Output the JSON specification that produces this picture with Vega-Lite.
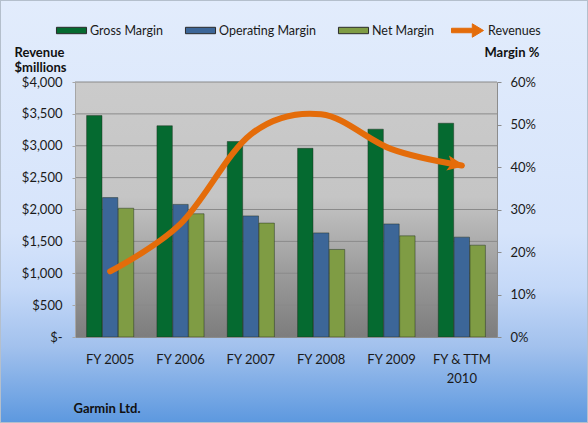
{
  "$schema": "https://vega.github.io/schema/vega-lite/v6.json",
  "width": 588,
  "height": 423,
  "autosize": {"type": "none"},
  "padding": 0,
  "datasets": {
    "margins": [
      {"year": "FY 2005", "metric": "Gross Margin", "margin": 0.521},
      {"year": "FY 2005", "metric": "Operating Margin", "margin": 0.328},
      {"year": "FY 2005", "metric": "Net Margin", "margin": 0.303},
      {"year": "FY 2006", "metric": "Gross Margin", "margin": 0.497},
      {"year": "FY 2006", "metric": "Operating Margin", "margin": 0.312},
      {"year": "FY 2006", "metric": "Net Margin", "margin": 0.290},
      {"year": "FY 2007", "metric": "Gross Margin", "margin": 0.460},
      {"year": "FY 2007", "metric": "Operating Margin", "margin": 0.285},
      {"year": "FY 2007", "metric": "Net Margin", "margin": 0.268},
      {"year": "FY 2008", "metric": "Gross Margin", "margin": 0.444},
      {"year": "FY 2008", "metric": "Operating Margin", "margin": 0.245},
      {"year": "FY 2008", "metric": "Net Margin", "margin": 0.206},
      {"year": "FY 2009", "metric": "Gross Margin", "margin": 0.489},
      {"year": "FY 2009", "metric": "Operating Margin", "margin": 0.266},
      {"year": "FY 2009", "metric": "Net Margin", "margin": 0.238},
      {"year": "FY & TTM 2010", "metric": "Gross Margin", "margin": 0.503},
      {"year": "FY & TTM 2010", "metric": "Operating Margin", "margin": 0.235},
      {"year": "FY & TTM 2010", "metric": "Net Margin", "margin": 0.216}
    ],
    "revenue": [
      {"year": "FY 2005", "revenue": 1028},
      {"year": "FY 2006", "revenue": 1774},
      {"year": "FY 2007", "revenue": 3180},
      {"year": "FY 2008", "revenue": 3494},
      {"year": "FY 2009", "revenue": 2946},
      {"year": "FY & TTM 2010", "revenue": 2690}
    ],
    "plotarea": [{"x0": 0, "x1": 1, "y0": 0, "y1": 4000}],
    "grid": [{"g": 500}, {"g": 1000}, {"g": 1500}, {"g": 2000}, {"g": 2500}, {"g": 3000}, {"g": 3500}, {"g": 4000}]
  },
  "layer": [
    {
      "layer": [
        {
          "data": {"name": "plotarea"},
          "mark": {"type": "rect", "fill": {"gradient": "linear", "x1": 0, "y1": 0, "x2": 0, "y2": 1, "stops": [
            {"offset": 0, "color": "#cbcbcb"},
            {"offset": 0.45, "color": "#c5c5c5"},
            {"offset": 0.75, "color": "#9b9b9b"},
            {"offset": 1, "color": "#7d7d7d"}
          ]}},
          "encoding": {
            "x": {"field": "x0", "type": "quantitative", "scale": {"domain": [0, 1], "range": [75, 497]}, "axis": null},
            "x2": {"field": "x1"},
            "y": {"field": "y0", "type": "quantitative", "scale": {"domain": [0, 4000], "range": [337, 82]}, "axis": null},
            "y2": {"field": "y1"}
          }
        },
        {
          "data": {"name": "grid"},
          "mark": {"type": "rule", "color": "#8a8a8a", "strokeWidth": 1},
          "encoding": {
            "x": {"datum": 0, "type": "quantitative"},
            "x2": {"datum": 1},
            "y": {"field": "g", "type": "quantitative"}
          }
        }
      ]
    },
    {
      "encoding": {
        "x": {
          "field": "year", "type": "nominal", "sort": null,
          "scale": {"paddingInner": 0.33, "paddingOuter": 0.165, "range": [75, 497]},
          "axis": {
            "orient": "bottom", "offset": -86, "zindex": 1,
            "labelAngle": 0, "ticks": false, "labelPadding": 16,
            "labelBaseline": "top", "labelLineHeight": 19,
            "labelExpr": "datum.label == 'FY & TTM 2010' ? ['FY & TTM', '2010'] : datum.label",
            "domainColor": "#8c8c8c",
            "title": "Garmin Ltd.", "titleX": 73, "titleY": 71, "titleAlign": "left", "titleBaseline": "middle", "titleAnchor": null
          }
        }
      },
      "layer": [
        {
          "data": {"name": "margins"},
          "mark": {"type": "bar", "stroke": "#1b2a1b", "strokeOpacity": 0.45, "strokeWidth": 1},
          "encoding": {
            "xOffset": {"field": "metric", "type": "nominal", "sort": ["Gross Margin", "Operating Margin", "Net Margin"], "scale": {"paddingInner": 0.03}},
            "y": {
              "field": "margin", "type": "quantitative",
              "scale": {"domain": [0, 0.6], "nice": false, "range": [337, 82]},
              "axis": {
                "orient": "right", "offset": -91, "zindex": 1,
                "values": [0, 0.1, 0.2, 0.3, 0.4, 0.5, 0.6], "format": ".0%",
                "grid": false, "tickSize": 4, "tickColor": "#8c8c8c", "domainColor": "#8c8c8c",
                "labelPadding": 9, "labelAlign": "left",
                "title": "Margin %", "titleAngle": 0, "titleAlign": "left", "titleBaseline": "alphabetic",
                "titleX": -13, "titleY": 56
              }
            },
            "color": {
              "field": "metric", "type": "nominal",
              "sort": ["Gross Margin", "Operating Margin", "Net Margin"],
              "scale": {"domain": ["Gross Margin", "Operating Margin", "Net Margin"], "range": ["#056a30", "#3c6698", "#7f9c44"]},
              "legend": {
                "title": null, "orient": "none", "direction": "horizontal", "legendX": 55, "legendY": 14,
                "symbolType": "M-0.94,-0.2L0.94,-0.2L0.94,0.2L-0.94,0.2Z",
                "symbolSize": 1024, "symbolStrokeColor": "#2a2a2a", "symbolStrokeWidth": 1,
                "labelOffset": 2, "columnPadding": 20, "padding": 0,
                "labelFontSize": 12.5, "labelColor": "#1a1a1a"
              }
            }
          }
        },
        {
          "data": {"name": "revenue"},
          "encoding": {
            "y": {
              "field": "revenue", "type": "quantitative",
              "scale": {"domain": [0, 4000], "nice": false, "range": [337, 82]},
              "axis": {
                "orient": "left", "offset": -75, "zindex": 1,
                "values": [0, 500, 1000, 1500, 2000, 2500, 3000, 3500, 4000],
                "labelExpr": "datum.value == 0 ? '$-\u00a0' : '$' + format(datum.value, ',')",
                "grid": false,
                "tickSize": 3, "tickColor": "#a6a6a6", "domainColor": "#a6a6a6", "labelPadding": 10,
                "title": ["Revenue", "$millions"], "titleAngle": 0, "titleAlign": "left", "titleBaseline": "alphabetic",
                "titleX": -61, "titleY": 56, "titleLineHeight": 15
              }
            }
          },
          "layer": [
            {
              "mark": {"type": "line", "interpolate": "cardinal", "strokeWidth": 6, "strokeCap": "round", "strokeJoin": "round"},
              "encoding": {
                "stroke": {
                  "datum": "Revenues",
                  "scale": {"domain": ["Revenues"], "range": ["#e46c0a"]},
                  "legend": {
                    "title": null, "orient": "none", "legendX": 451, "legendY": 14,
                    "symbolType": "M-1,-0.14L0.3,-0.14L0.3,-0.42L1,0L0.3,0.42L0.3,0.14L-1,0.14Z",
                    "symbolSize": 1024, "symbolFillColor": "#e46c0a", "symbolStrokeColor": "#e46c0a", "symbolStrokeWidth": 1,
                    "labelOffset": 4, "padding": 0,
                    "labelFontSize": 12.5, "labelColor": "#1a1a1a"
                  }
                }
              }
            },
            {
              "transform": [{"filter": "datum.year == 'FY & TTM 2010'"}],
              "mark": {"type": "point", "shape": "M0.2,0L-0.85,-0.45L-0.62,0L-0.85,0.45Z", "filled": true, "opacity": 1, "size": 1156, "angle": 10, "color": "#e46c0a"}
            }
          ]
        }
      ],
      "resolve": {"scale": {"y": "independent"}}
    }
  ],
  "resolve": {"scale": {"x": "independent", "y": "independent"}},
  "config": {
    "font": "Lato",
    "view": {
      "stroke": "#b4bfcc",
      "strokeWidth": 2,
      "fill": {"gradient": "linear", "x1": 0, "y1": 0, "x2": 0, "y2": 1, "stops": [
        {"offset": 0, "color": "#e2ecfc"},
        {"offset": 0.55, "color": "#d6e4fb"},
        {"offset": 0.68, "color": "#c5d9f8"},
        {"offset": 0.82, "color": "#a2c1ed"},
        {"offset": 1, "color": "#5c98df"}
      ]}
    },
    "axis": {
      "labelFont": "Lato", "labelFontSize": 13, "labelColor": "#1a1a1a",
      "titleFont": "Lato", "titleFontSize": 13, "titleFontWeight": "bold", "titleColor": "#111111"
    },
    "legend": {"labelFont": "Lato"}
  }
}
